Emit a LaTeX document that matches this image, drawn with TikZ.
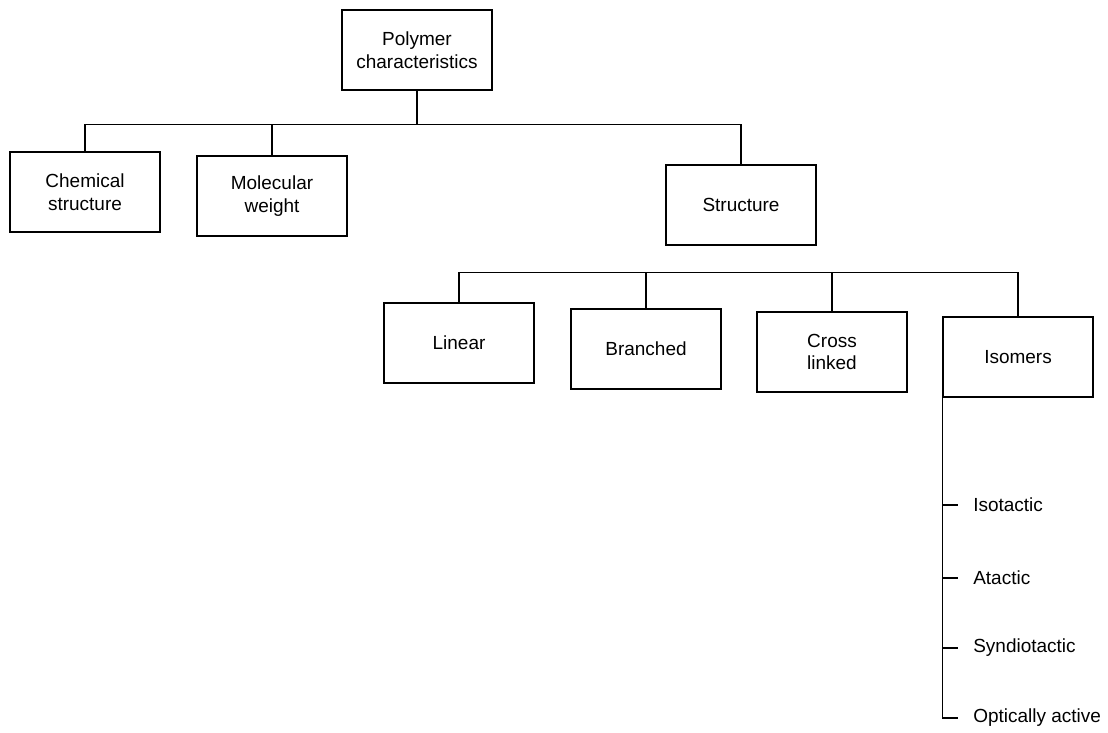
\documentclass[tikz,border=0pt]{standalone}
\usepackage{fontspec}
\setmainfont{Liberation Sans}
\usepackage{tikz}
\usetikzlibrary{positioning,calc}

\begin{document}
\begin{tikzpicture}[x=0.025cm, y=-0.025cm, font=\fontsize{13.5}{16}\selectfont,
    poly box/.style={draw, line width=0.9pt, minimum width=3.75cm, minimum height=2cm, align=center, inner sep=2pt},
    kind label/.style={anchor=west, inner ysep=2pt, inner xsep=0.375cm}]
    \useasboundingbox (0,0) rectangle (1108,732);

    \node[poly box] (poly) at (417,50) {Polymer\\characteristics};
    \node[poly box] (chem) at (85,192) {Chemical\\structure};
    \node[poly box] (mol) at (272,196) {Molecular\\weight};
    \node[poly box] (struct) at (741,205) {Structure};

    \node[poly box] (lin) at (459,343) {Linear};
    \node[poly box] (bran) at (646,349) {Branched};
    \node[poly box] (cross) at (832,352) {Cross\\linked};
    \node[poly box] (iso) at (1018,357) {Isomers};

    % first level
    \draw[line width=0.9pt] (poly.south) -- ++(0,34) coordinate (bar1);
    \draw[line width=0.9pt] (chem.north) |- (bar1) -| (struct.north);
    \draw[line width=0.9pt] (mol.north) -- (mol.north |- bar1);

    % structure types
    \draw[line width=0.9pt] (lin.north) -- ++(0,-30) coordinate (bar2) -| (iso.north);
    \draw[line width=0.9pt] (bran.north) -- (bran.north |- bar2);
    \draw[line width=0.9pt] (cross.north) -- (cross.north |- bar2);

    % isomers
    \foreach \nm/\yy/\txt in {isot/505/Isotactic, atac/578/Atactic, synd/648/Syndiotactic, opt/718/Optically active}
        \node[kind label] (\nm) at (958,\yy) {\txt};
    \draw[line width=0.9pt] (iso.south west) |- (opt.west);
    \foreach \nm in {isot,atac,synd}
        \draw[line width=0.9pt] (iso.south west |- \nm.west) -- (\nm.west);
\end{tikzpicture}
\end{document}
